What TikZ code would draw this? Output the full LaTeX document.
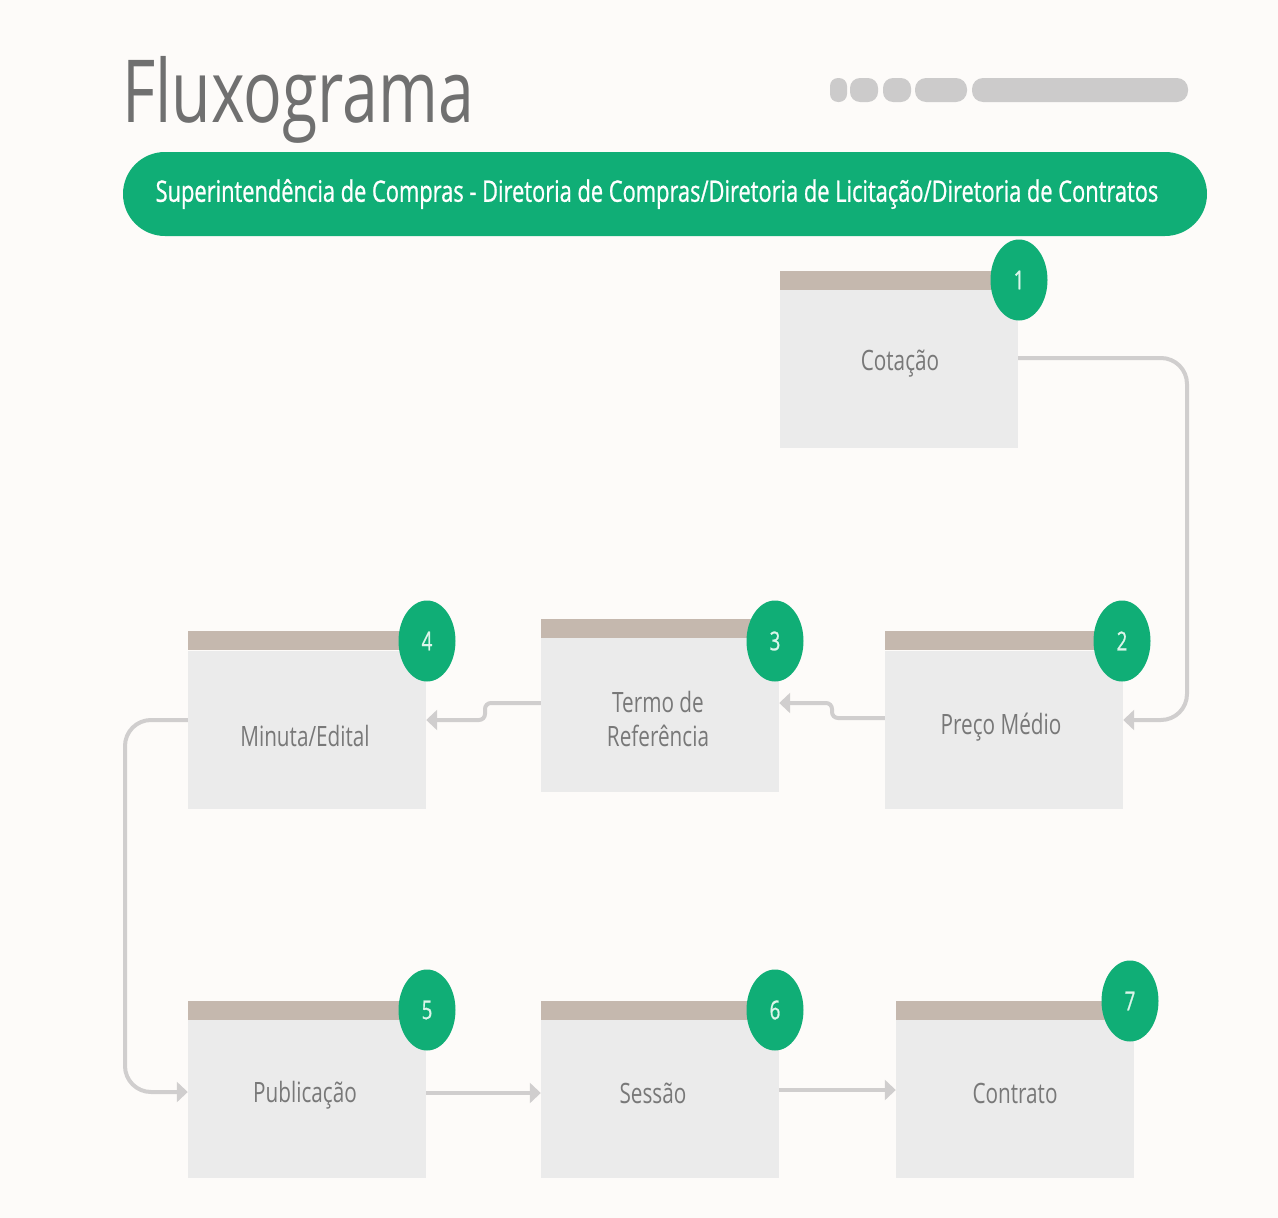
\documentclass[tikz,border=0pt]{standalone}
\usepackage{fontspec}
\setmainfont{Open Sans}
\newfontfamily\cf{Open Sans}[FakeStretch=0.74]
\newfontfamily\cfm{Open Sans}[FakeStretch=0.72, FakeBold=0.8]
\newfontfamily\cfb{Open Sans}[FakeStretch=0.738, FakeBold=0.8]
\usetikzlibrary{arrows.meta,shapes.geometric,calc}
\definecolor{bg}{RGB}{253,251,249}
\definecolor{grn}{RGB}{16,174,118}
\definecolor{mint}{RGB}{220,245,234}
\definecolor{tan}{RGB}{197,184,174}
\definecolor{body}{RGB}{235,235,235}
\definecolor{titlec}{RGB}{112,112,112}
\definecolor{boxtxt}{RGB}{120,120,120}
\definecolor{conn}{RGB}{208,206,206}
\definecolor{pill}{RGB}{204,203,203}
\tikzset{
  stepbox/.style={rectangle, fill=body, minimum width=238pt, minimum height=158pt, inner sep=0pt},
  steptext/.style={inner sep=0pt, font=\cf\fontsize{28}{34}\selectfont, text=boxtxt, align=center},
  badge/.style={ellipse, fill=grn, minimum width=57pt, minimum height=81pt, inner sep=0pt,
    font=\cfm\fontsize{26}{26}\selectfont, text=mint},
  flow/.style={draw=conn, line width=4pt, -{Triangle[length=11pt,width=20pt]}},
}
\begin{document}
\begin{tikzpicture}[x=1pt,y=-1pt]
\useasboundingbox (0,0) rectangle (1278,1218);
\fill[bg] (0,0) rectangle (1278,1218);

% title
\node[anchor=base west, inner sep=0pt, text=titlec, font=\cf\fontsize{87}{87}\selectfont] (title) at (122,122) {Fluxograma};

% progress pills
\fill[pill, rounded corners=8pt] (830,78) rectangle (847,102);
\fill[pill, rounded corners=10pt] (850,78) rectangle (878,102);
\fill[pill, rounded corners=10pt] (883,78) rectangle (911,102);
\fill[pill, rounded corners=11pt] (915,78) rectangle (967,102);
\fill[pill, rounded corners=11pt] (972,78) rectangle (1188,102);

% banner
\node[rectangle, fill=grn, rounded corners=42pt, minimum width=1084pt, minimum height=84pt, inner sep=0pt] (banner) at (665,194) {};
\node[inner sep=0pt, text=white, font=\cfb\fontsize{29.6}{30}\selectfont] (bannertext) at (657,194)
  {Superintendência de Compras - Diretoria de Compras/Diretoria de Licitação/Diretoria de Contratos};

% boxes
\node[stepbox] (b1) at (899,369) {};
\node[stepbox] (b2) at (1004,729.5) {};
\node[stepbox, minimum height=154pt] (b3) at (660,715) {};
\node[stepbox] (b4) at (307,729.5) {};
\node[stepbox] (b5) at (307,1099) {};
\node[stepbox] (b6) at (660,1099) {};
\node[stepbox] (b7) at (1015,1099) {};

% box texts
\node[steptext] (t1) at (900,364) {Cotação};
\node[steptext] (t2) at (1001,727) {Preço Médio};
\node[steptext] (t3) at (658,719) {Termo de\\Referência};
\node[steptext] (t4) at (305,736) {Minuta/Edital};
\node[steptext] (t5) at (305,1095) {Publicação};
\node[steptext] (t6) at (653,1093) {Sessão};
\node[steptext] (t7) at (1015,1093) {Contrato};

% tan bars
\foreach \b in {b1,b2,b3,b4,b5,b6,b7}{
  \fill[tan] (\b.north west) rectangle ([yshift=19pt]\b.north east);
}

% badges
\node[badge] (c1) at (1019,280) {1};
\node[badge] (c2) at (1122,641) {2};
\node[badge] (c3) at (775,641) {3};
\node[badge] (c4) at (427,641) {4};
\node[badge] (c5) at (427,1010) {5};
\node[badge] (c6) at (775,1010) {6};
\node[badge] (c7) at (1130,1001) {7};

% connectors
\draw[flow, rounded corners=26pt] ([yshift=11pt]b1.east) -- (1187,358) -- (1187,720) -- ([yshift=9.5pt]b2.east);
\draw[flow, rounded corners=6pt] ([yshift=11.5pt]b2.west) -- (832,718) -- (832,703) -- ([yshift=12pt]b3.east);
\draw[flow, rounded corners=6pt] ([yshift=12pt]b3.west) -- (485,703) -- (485,720) -- ([yshift=9.5pt]b4.east);
\draw[flow, rounded corners=26pt] ([yshift=9.5pt]b4.west) -- (125,720) -- (125,1092) -- ([yshift=7pt]b5.west);
\draw[flow] ([yshift=6pt]b5.east) -- ([yshift=6pt]b6.west);
\draw[flow] ([yshift=9pt]b6.east) -- ([yshift=9pt]b7.west);
\end{tikzpicture}
\end{document}
